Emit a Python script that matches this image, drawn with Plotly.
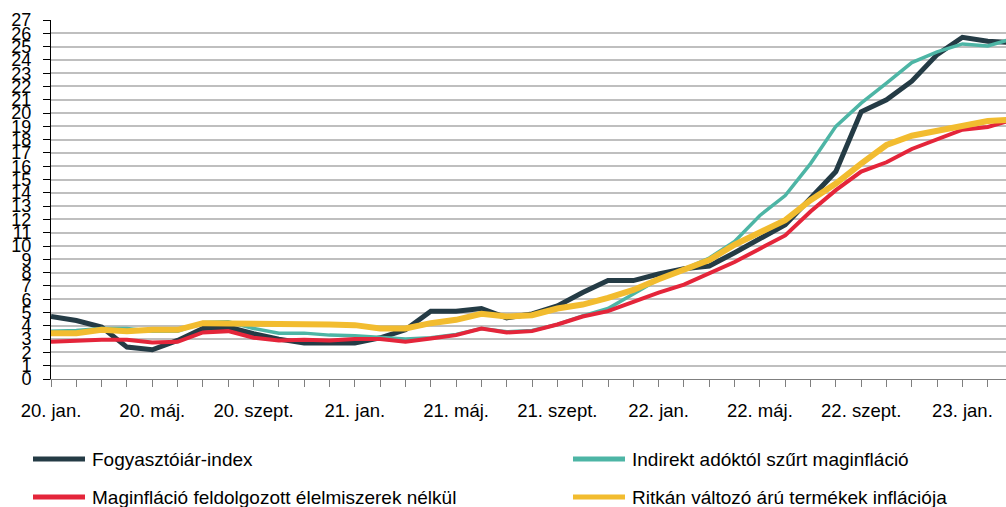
import plotly.graph_objects as go

# monthly data, 2020 jan .. 2023 márc.
months = ["2020-%02d" % m for m in range(1, 13)] + \
         ["2021-%02d" % m for m in range(1, 13)] + \
         ["2022-%02d" % m for m in range(1, 13)] + \
         ["2023-01", "2023-02", "2023-03"]

tick_labels = {
    "2020-01": "20. jan.", "2020-05": "20. máj.", "2020-09": "20. szept.",
    "2021-01": "21. jan.", "2021-05": "21. máj.", "2021-09": "21. szept.",
    "2022-01": "22. jan.", "2022-05": "22. máj.", "2022-09": "22. szept.",
    "2023-01": "23. jan.",
}

cpi = [4.7, 4.4, 3.9, 2.4, 2.2, 2.9, 3.8, 3.9, 3.4, 3.0, 2.7, 2.7,
       2.7, 3.1, 3.7, 5.1, 5.1, 5.3, 4.6, 4.9, 5.5, 6.5, 7.4, 7.4,
       7.9, 8.3, 8.5, 9.5, 10.6, 11.6, 13.6, 15.6, 20.1, 21.0, 22.4, 24.4,
       25.7, 25.4, 25.3]

core_tax = [3.6, 3.65, 3.8, 3.8, 3.6, 3.6, 4.25, 4.3, 3.8, 3.45, 3.45, 3.3,
            3.25, 3.15, 3.0, 3.1, 3.35, 3.8, 3.55, 3.65, 4.1, 4.75, 5.3, 6.4,
            7.5, 8.25, 9.1, 10.35, 12.3, 13.8, 16.2, 19.0, 20.75, 22.25, 23.8, 24.6,
            25.2, 25.05, 25.6]

core_food = [2.8, 2.9, 2.95, 2.95, 2.75, 2.8, 3.5, 3.6, 3.1, 2.9, 2.95, 2.9,
             3.0, 3.0, 2.8, 3.05, 3.3, 3.8, 3.5, 3.6, 4.1, 4.7, 5.1, 5.8,
             6.5, 7.1, 7.95, 8.8, 9.8, 10.8, 12.6, 14.2, 15.6, 16.3, 17.3, 18.05,
             18.75, 18.95, 19.5]

sticky = [3.45, 3.45, 3.7, 3.6, 3.7, 3.7, 4.2, 4.2, 4.1, 4.1, 4.1, 4.1,
          4.05, 3.8, 3.8, 4.2, 4.45, 4.9, 4.7, 4.8, 5.3, 5.6, 6.1, 6.7,
          7.5, 8.2, 8.95, 10.1, 11.0, 11.95, 13.45, 14.7, 16.2, 17.6, 18.3, 18.7,
          19.1, 19.4, 19.5]

series = [
    ("Fogyasztóiár-index", cpi, "#243b45", 5),
    ("Indirekt adóktól szűrt maginfláció", core_tax, "#4db5a5", 3.5),
    ("Maginfláció feldolgozott élelmiszerek nélkül", core_food, "#e4253a", 4),
    ("Ritkán változó árú termékek inflációja", sticky, "#f2bc2f", 6),
]

FONT = "Liberation Sans, Arial, sans-serif"

W, H = 1006, 507
L, R, T, B = 51, 0, 20, 128
pw, ph = W - L - R, H - T - B


def px(x):
    return (x - L) / pw


def py(y):
    return (H - B - y) / ph


fig = go.Figure()
for name, vals, color, w in series:
    fig.add_trace(go.Scatter(x=months, y=vals, mode="lines", name=name,
                             line=dict(color=color, width=w)))

# hand-made legend (two columns, two rows)
legend_pos = [(33, 459), (573, 459), (33, 497), (573, 497)]
for (name, vals, color, w), (lx, ly) in zip(series, legend_pos):
    fig.add_shape(type="line", xref="paper", yref="paper",
                  x0=px(lx), x1=px(lx + 52), y0=py(ly), y1=py(ly),
                  line=dict(color=color, width=5))
    fig.add_annotation(xref="paper", yref="paper", x=px(lx + 57), y=py(ly),
                       text=name, showarrow=False, xanchor="left", yanchor="middle",
                       font=dict(size=19, color="#000000", family=FONT))

fig.update_layout(
    width=W, height=H,
    margin=dict(l=L, r=R, t=T, b=B),
    plot_bgcolor="white", paper_bgcolor="white",
    showlegend=False,
    font=dict(family=FONT, color="#000000"),
    xaxis=dict(
        type="category",
        range=[0, 37.72],
        tickvals=months,
        ticktext=[tick_labels.get(m, "") for m in months],
        ticks="outside", ticklen=7, tickcolor="#7f7f7f",
        showline=True, linecolor="#7f7f7f", linewidth=1,
        showgrid=False, tickangle=0,
        tickfont=dict(size=18.5),
        ticklabelstandoff=8,
        automargin=False,
    ),
    yaxis=dict(
        range=[0, 27],
        dtick=1,
        ticks="outside", ticklen=7, tickcolor="#000000",
        showline=True, linecolor="#000000", linewidth=1,
        gridcolor="#bfbfbf", gridwidth=2,
        zeroline=False,
        tickfont=dict(size=18),
        ticklabelstandoff=8,
        automargin=False,
    ),
)

# drop the browser's default body margin so the figure sits at the page corner
fig.write_html("out.html", config={"displayModeBar": False},
               post_script="document.body.style.margin='0';")
